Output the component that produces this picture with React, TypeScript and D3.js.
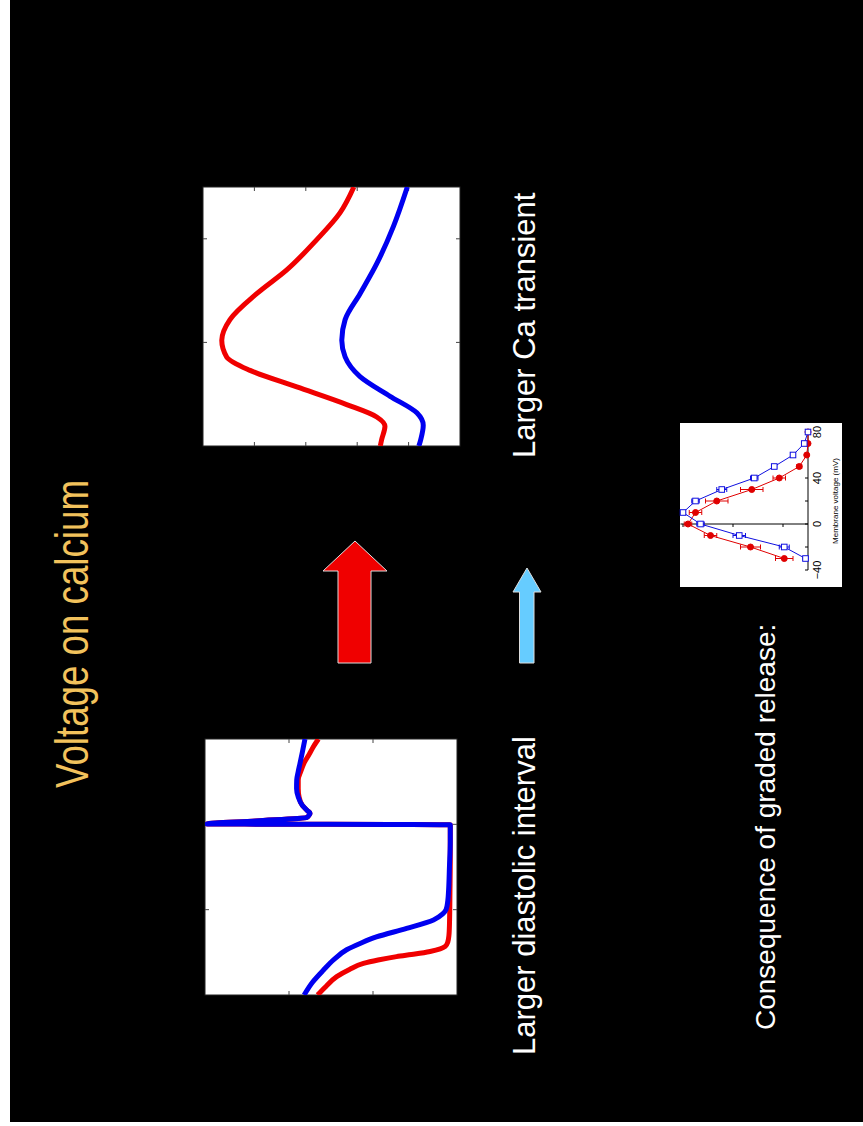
import * as d3 from 'd3';

// slide is drawn landscape, then turned -90deg onto the page
const FONT = 'Liberation Sans, Arial, sans-serif';

// action potential, ms / mV
const apBlueT = [0, 15, 29, 42, 53, 61, 68, 78, 88, 95, 100, 110, 123, 150, 180, 199.5, 200.5, 204, 208, 211, 213, 216, 222, 232, 242, 252, 262, 271, 285, 300];
const apBlueV = [-9, -14, -20.4, -27, -34.3, -43, -52, -70, -86, -91.5, -93.5, -94.5, -95, -95.5, -96, -96, 49, 20, -10.5, -12, -12.5, -11, -8, -5.5, -4.5, -4.6, -5.5, -6.5, -8, -9.5];
const apRedT = [0, 10, 21.5, 30, 37, 41, 45, 48, 51, 54, 57, 62, 70, 76, 90, 120, 160, 199.5, 200.5, 204, 208, 211, 213, 216, 222, 232, 242, 252, 262, 272, 282, 291, 300];
const apRedV = [-17, -22, -28.4, -36, -44.3, -53, -64, -75, -84, -90, -93, -94.5, -95.2, -95.4, -95.6, -95.8, -96, -96, 49, 20, -10.5, -12, -12.5, -11, -8, -6, -5.5, -5.5, -7, -9, -12, -14.5, -17.5];

// calcium transient, ms / normalised
const caT = [0, 6, 19, 28, 40, 57, 73, 86, 102, 122, 147, 170, 199, 225, 250];
const caRed = [0.31, 0.305, 0.292, 0.324, 0.441, 0.635, 0.817, 0.908, 0.927, 0.895, 0.791, 0.674, 0.558, 0.467, 0.413];
const caBlueT = [0, 6, 20, 32, 48, 67, 86, 102, 122, 147, 176, 212, 250];
const caBlue = [0.16, 0.153, 0.143, 0.168, 0.272, 0.389, 0.447, 0.46, 0.447, 0.389, 0.324, 0.259, 0.205];

// graded release inset
const mv = [-30, -20, -10, 0, 10, 20, 30, 40, 50, 60, 70, 80];
const relBlue = [0.02, 0.19, 0.55, 0.86, 1.0, 0.9, 0.69, 0.43, 0.27, 0.12, 0.03, 0.0];
const relRed = [0.19, 0.46, 0.78, 0.96, 0.9, 0.73, 0.45, 0.23, 0.07, 0.01, 0.0, 0.0];
const errBlue = [0.02, 0.04, 0.05, 0.03, 0.02, 0.03, 0.04, 0.03, 0.02, 0.02, 0.01, 0.01];
const errRed = [0.07, 0.08, 0.05, 0.03, 0.05, 0.09, 0.09, 0.05, 0.02, 0.01, 0.01, 0.01];
const mvTicks = [-40, -20, 0, 20, 40, 60, 80];
const mvLabels = [-40, 0, 40, 80];
const relTicks = [0.2, 0.6, 1.0];

const RED = '#f00000';
const BLUE = '#0000f0';

type Pt = [number, number];

function Frame({ x0, x1, y0, y1, xt, yt }: { x0: number; x1: number; y0: number; y1: number; xt: number[]; yt: number[] }) {
    const tk = 4;
    return (
        <g>
            <rect x={x0} y={y0} width={x1 - x0} height={y1 - y0} fill="#fff" stroke="#222" strokeWidth={1} />
            {xt.map((x, i) => (
                <g key={'x' + i} stroke="#444" strokeWidth={1}>
                    <line x1={x} x2={x} y1={y1} y2={y1 - tk} />
                    <line x1={x} x2={x} y1={y0} y2={y0 + tk} />
                </g>
            ))}
            {yt.map((y, i) => (
                <g key={'y' + i} stroke="#444" strokeWidth={1}>
                    <line x1={x0} x2={x0 + tk} y1={y} y2={y} />
                    <line x1={x1} x2={x1 - tk} y1={y} y2={y} />
                </g>
            ))}
        </g>
    );
}

function App() {
    // voltage panel
    const tAp = d3.scaleLinear().domain([0, 300]).range([127, 383]);
    const vAp = d3.scaleLinear().domain([-100, 50]).range([447, 195]);
    const apLine = d3
        .line<Pt>()
        .x((d) => tAp(d[0]))
        .y((d) => vAp(d[1]))
        .curve(d3.curveMonotoneX);
    const apBlue = apLine(apBlueT.map((t, i) => [t, apBlueV[i]] as Pt)) || '';
    const apRed = apLine(apRedT.map((t, i) => [t, apRedV[i]] as Pt)) || '';

    // calcium panel
    const tCa = d3.scaleLinear().domain([0, 250]).range([676, 935]);
    const cCa = d3.scaleLinear().domain([0, 1]).range([450, 193]);
    const caLine = d3
        .line<Pt>()
        .x((d) => tCa(d[0]))
        .y((d) => cCa(d[1]))
        .curve(d3.curveMonotoneX);
    const caR = caLine(caT.map((t, i) => [t, caRed[i]] as Pt)) || '';
    const caB = caLine(caBlueT.map((t, i) => [t, caBlue[i]] as Pt)) || '';

    // inset
    const xV = d3.scaleLinear().domain([-40, 80]).range([552, 690]);
    const yR = d3.scaleLinear().domain([0, 1]).range([798, 673]);
    const relLine = d3
        .line<number>()
        .x((_, i) => xV(mv[i]))
        .y((d) => yR(d));

    return (
        <svg width={863} height={1126} style={{ position: 'absolute', left: 0, top: 0, display: 'block' }}>
            <rect x={0} y={0} width={863} height={1126} fill="#fff" />
            <rect x={10} y={0} width={853} height={1122} fill="#000" />
            <g transform="translate(10,1122) rotate(-90)" fontFamily={FONT}>
                <text x={334} y={78} fill="#f2c25c" fontSize={46} textLength={308} lengthAdjust="spacingAndGlyphs">
                    Voltage on calcium
                </text>

                <defs>
                    <clipPath id="clipAp">
                        <rect x={127} y={195} width={256} height={252} />
                    </clipPath>
                    <clipPath id="clipCa">
                        <rect x={676} y={193} width={259} height={257} />
                    </clipPath>
                </defs>

                <Frame x0={127} x1={383} y0={195} y1={447} xt={[100, 200].map(tAp)} yt={[-50, 0].map(vAp)} />
                <g clipPath="url(#clipAp)" fill="none" strokeWidth={5} strokeLinejoin="round">
                    <path d={apRed} stroke={RED} />
                    <path d={apBlue} stroke={BLUE} />
                </g>

                <Frame x0={676} x1={935} y0={193} y1={450} xt={[100, 200].map(tCa)} yt={[0.2, 0.4, 0.6, 0.8].map(cCa)} />
                <g clipPath="url(#clipCa)" fill="none" strokeWidth={5} strokeLinejoin="round">
                    <path d={caR} stroke={RED} />
                    <path d={caB} stroke={BLUE} />
                </g>

                {/* arrows */}
                <polygon
                    points="459,328 551,328 551,313 581,345 551,377 551,361 459,361"
                    fill="#f00000"
                    stroke="#ddd"
                    strokeWidth={1}
                />
                <polygon
                    points="459,509.5 530,509.5 530,503 554,517 530,531 530,524 459,524"
                    fill="#66ccff"
                    stroke="#ddd"
                    strokeWidth={1}
                />

                <text x={67} y={525} fill="#fff" fontSize={31}>
                    Larger diastolic interval
                </text>
                <text x={664} y={525} fill="#fff" fontSize={31}>
                    Larger Ca transient
                </text>
                <text x={92} y={765} fill="#fff" fontSize={28}>
                    Consequence of graded release:
                </text>

                {/* inset */}
                <rect x={535} y={670} width={164} height={162} fill="#fff" />
                <line x1={xV(-40)} x2={xV(80)} y1={yR(0)} y2={yR(0)} stroke="#000" strokeWidth={1} />
                <line x1={xV(0)} x2={xV(0)} y1={yR(0)} y2={yR(1.02)} stroke="#000" strokeWidth={1} />
                {mvTicks.map((v) => (
                    <line key={v} x1={xV(v)} x2={xV(v)} y1={yR(0)} y2={yR(0) - 3} stroke="#000" strokeWidth={1} />
                ))}
                {relTicks.map((r) => (
                    <line key={r} x1={xV(0)} x2={xV(0) - 3} y1={yR(r)} y2={yR(r)} stroke="#000" strokeWidth={1} />
                ))}
                {mvLabels.map((v) => (
                    <text key={v} x={xV(v)} y={yR(0) + 13} fontSize={11} textAnchor="middle" fill="#000">
                        {v < 0 ? '\u2212' + Math.abs(v) : v}
                    </text>
                ))}
                <text x={xV(20)} y={828} fontSize={8} textAnchor="middle" fill="#000">
                    Membrane voltage (mV)
                </text>

                {[
                    { vals: relRed, err: errRed, col: '#e00000', open: false },
                    { vals: relBlue, err: errBlue, col: '#1010e0', open: true },
                ].map((s, k) => (
                    <g key={k}>
                        <path d={relLine(s.vals) || ''} fill="none" stroke={s.col} strokeWidth={1} />
                        {s.vals.map((d, i) => {
                            const cx = xV(mv[i]);
                            const cy = yR(d);
                            const lo = yR(d - s.err[i]);
                            const hi = yR(d + s.err[i]);
                            return (
                                <g key={i} stroke={s.col} strokeWidth={1}>
                                    <line x1={cx} x2={cx} y1={lo} y2={hi} />
                                    <line x1={cx - 2.5} x2={cx + 2.5} y1={lo} y2={lo} />
                                    <line x1={cx - 2.5} x2={cx + 2.5} y1={hi} y2={hi} />
                                    {s.open ? (
                                        <rect x={cx - 2.8} y={cy - 2.8} width={5.6} height={5.6} fill="#fff" />
                                    ) : (
                                        <circle cx={cx} cy={cy} r={3} fill={s.col} />
                                    )}
                                </g>
                            );
                        })}
                    </g>
                ))}
            </g>
        </svg>
    );
}

export default App;
